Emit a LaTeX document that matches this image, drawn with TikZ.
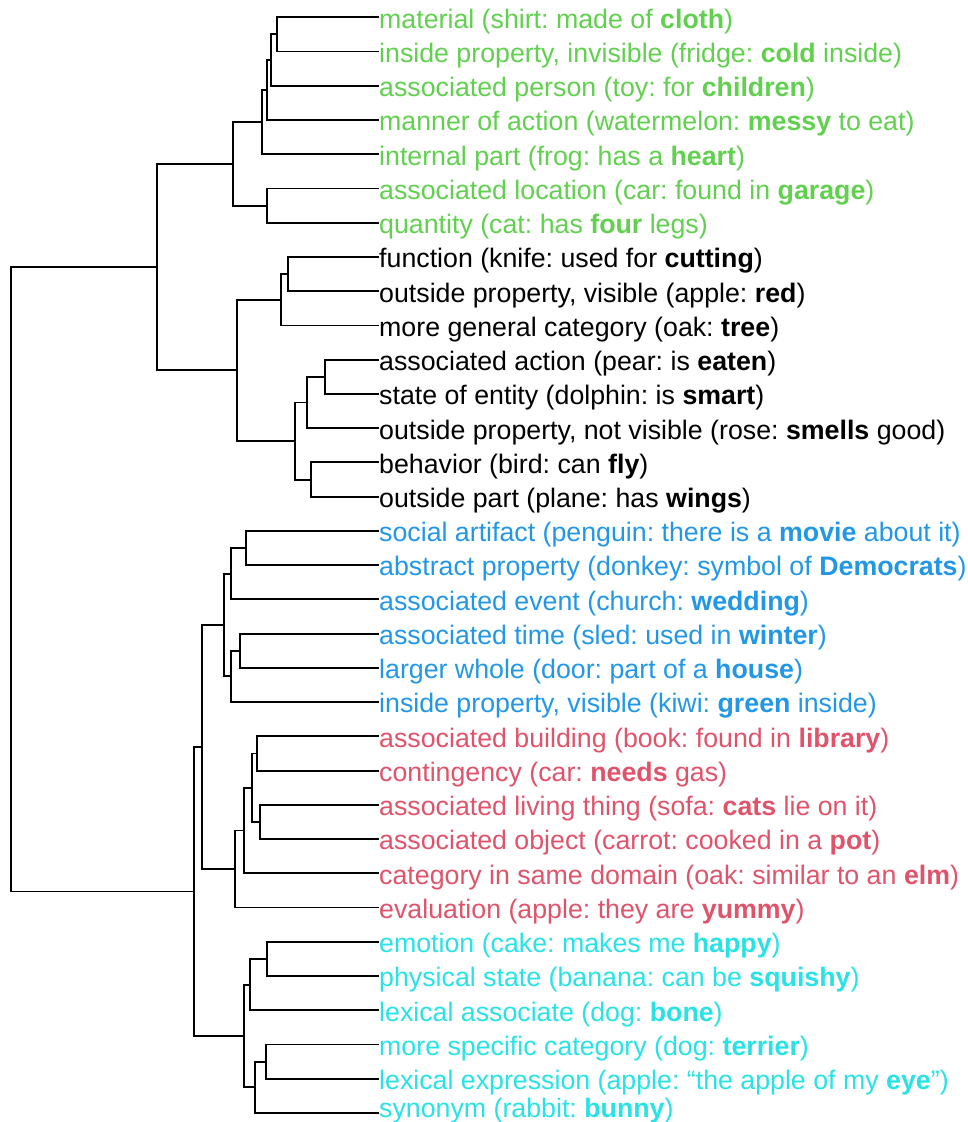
\documentclass[tikz,border=0pt]{standalone}
\usepackage{fontspec}
\setmainfont{Liberation Sans}
\usepackage{xcolor}
\frenchspacing

\definecolor{rgreen}{HTML}{61D04F}
\definecolor{rblue}{HTML}{2297E6}
\definecolor{rred}{HTML}{DF536B}
\definecolor{rcyan}{HTML}{28E2E5}

\tikzset{
  leaf/.style={anchor=west, inner sep=0pt, text height=21.6pt, text depth=0pt,
    font=\fontsize{26.75}{30}\selectfont},
  link/.style={line width=1.9pt}
}

\begin{document}
\begin{tikzpicture}[x=1pt, y=-1pt]
\useasboundingbox (0,0) rectangle (967,1122);

% leaves
\node[leaf, rgreen] (m1) at (379,17.3) {material (shirt: made of \textbf{cloth})};
\node[leaf, rgreen] (m2) at (379,51.5) {inside property, invisible (fridge: \textbf{cold} inside)};
\node[leaf, rgreen] (m3) at (379,85.8) {associated person (toy: for \textbf{children})};
\node[leaf, rgreen] (m4) at (379,120.0) {manner of action (watermelon: \textbf{messy} to eat)};
\node[leaf, rgreen] (m5) at (379,154.3) {internal part (frog: has a \textbf{heart})};
\node[leaf, rgreen] (m6) at (379,188.5) {associated location (car: found in \textbf{garage})};
\node[leaf, rgreen] (m7) at (379,222.7) {quantity (cat: has \textbf{four} legs)};
\node[leaf] (m8) at (379,257.0) {function (knife: used for \textbf{cutting})};
\node[leaf] (m9) at (379,291.2) {outside property, visible (apple: \textbf{red})};
\node[leaf] (m10) at (379,325.5) {more general category (oak: \textbf{tree})};
\node[leaf] (m11) at (379,359.7) {associated action (pear: is \textbf{eaten})};
\node[leaf] (m12) at (379,393.9) {state of entity (dolphin: is \textbf{smart})};
\node[leaf] (m13) at (379,428.2) {outside property, not visible (rose: \textbf{smells} good)};
\node[leaf] (m14) at (379,462.4) {behavior (bird: can \textbf{fly})};
\node[leaf] (m15) at (379,496.7) {outside part (plane: has \textbf{wings})};
\node[leaf, rblue] (m16) at (379,530.9) {social artifact (penguin: there is a \textbf{movie} about it)};
\node[leaf, rblue] (m17) at (379,565.1) {abstract property (donkey: symbol of \textbf{Democrats})};
\node[leaf, rblue] (m18) at (379,599.4) {associated event (church: \textbf{wedding})};
\node[leaf, rblue] (m19) at (379,633.6) {associated time (sled: used in \textbf{winter})};
\node[leaf, rblue] (m20) at (379,667.9) {larger whole (door: part of a \textbf{house})};
\node[leaf, rblue] (m21) at (379,702.1) {inside property, visible (kiwi: \textbf{green} inside)};
\node[leaf, rred] (m22) at (379,736.3) {associated building (book: found in \textbf{library})};
\node[leaf, rred] (m23) at (379,770.6) {contingency (car: \textbf{needs} gas)};
\node[leaf, rred] (m24) at (379,804.8) {associated living thing (sofa: \textbf{cats} lie on it)};
\node[leaf, rred] (m25) at (379,839.1) {associated object (carrot: cooked in a \textbf{pot})};
\node[leaf, rred] (m26) at (379,873.3) {category in same domain (oak: similar to an \textbf{elm})};
\node[leaf, rred] (m27) at (379,907.5) {evaluation (apple: they are \textbf{yummy})};
\node[leaf, rcyan] (m28) at (379,941.8) {emotion (cake: makes me \textbf{happy})};
\node[leaf, rcyan] (m29) at (379,976.0) {physical state (banana: can be \textbf{squishy})};
\node[leaf, rcyan] (m30) at (379,1010.3) {lexical associate (dog: \textbf{bone})};
\node[leaf, rcyan] (m31) at (379,1044.5) {more specific category (dog: \textbf{terrier})};
\node[leaf, rcyan] (m32) at (379,1078.7) {lexical expression (apple: “the apple of my \textbf{eye}”)};
\node[leaf, rcyan, text height=9pt] (m33) at (379,1113.0) {synonym (rabbit: \textbf{bunny})};

% merge points
\coordinate (ga) at (277.3,34.4);
\coordinate (gb) at (271.0,60.1);
\coordinate (gc) at (266.7,90.1);
\coordinate (gd) at (261.7,122.2);
\coordinate (ge) at (267.3,205.6);
\coordinate (gf) at (233.0,163.9);
\coordinate (ka) at (288.0,274.1);
\coordinate (kb) at (281.0,299.8);
\coordinate (kc) at (325.3,376.8);
\coordinate (kd) at (307.0,402.5);
\coordinate (ke) at (311.3,479.6);
\coordinate (kf) at (295.3,441.0);
\coordinate (kg) at (237.0,370.4);
\coordinate (top) at (156.7,267.2);
\coordinate (ba) at (245.7,548.0);
\coordinate (bb) at (230.7,573.7);
\coordinate (bc) at (240.0,650.8);
\coordinate (bd) at (231.3,676.4);
\coordinate (be) at (223.7,625.1);
\coordinate (ra) at (257.0,753.5);
\coordinate (rb) at (260.0,822.0);
\coordinate (rc) at (251.7,787.7);
\coordinate (rd) at (243.7,830.5);
\coordinate (re) at (235.3,869.0);
\coordinate (br) at (202.3,747.0);
\coordinate (ca) at (267.0,958.9);
\coordinate (cb) at (250.0,984.6);
\coordinate (cc) at (266.0,1061.6);
\coordinate (cd) at (254.7,1087.3);
\coordinate (ce) at (244.3,1036.0);
\coordinate (bot) at (194.0,891.5);
\coordinate (root) at (11.3,579.3);

% branches
\draw[link] (m1.west) -| (ga) |- (m2.west);
\draw[link] (ga) -| (gb) |- (m3.west);
\draw[link] (gb) -| (gc) |- (m4.west);
\draw[link] (gc) -| (gd) |- (m5.west);
\draw[link] (m6.west) -| (ge) |- (m7.west);
\draw[link] (gd) -| (gf) |- (ge);
\draw[link] (m8.west) -| (ka) |- (m9.west);
\draw[link] (ka) -| (kb) |- (m10.west);
\draw[link] (m11.west) -| (kc) |- (m12.west);
\draw[link] (kc) -| (kd) |- (m13.west);
\draw[link] (m14.west) -| (ke) |- (m15.west);
\draw[link] (kd) -| (kf) |- (ke);
\draw[link] (kb) -| (kg) |- (kf);
\draw[link] (gf) -| (top) |- (kg);
\draw[link] (m16.west) -| (ba) |- (m17.west);
\draw[link] (ba) -| (bb) |- (m18.west);
\draw[link] (m19.west) -| (bc) |- (m20.west);
\draw[link] (bc) -| (bd) |- (m21.west);
\draw[link] (bb) -| (be) |- (bd);
\draw[link] (m22.west) -| (ra) |- (m23.west);
\draw[link] (m24.west) -| (rb) |- (m25.west);
\draw[link] (ra) -| (rc) |- (rb);
\draw[link] (rc) -| (rd) |- (m26.west);
\draw[link] (rd) -| (re) |- (m27.west);
\draw[link] (be) -| (br) |- (re);
\draw[link] (m28.west) -| (ca) |- (m29.west);
\draw[link] (ca) -| (cb) |- (m30.west);
\draw[link] (m31.west) -| (cc) |- (m32.west);
\draw[link] (cc) -| (cd) |- (m33.west);
\draw[link] (cb) -| (ce) |- (cd);
\draw[link] (br) -| (bot) |- (ce);
\draw[link] (top) -| (root) |- (bot);
\end{tikzpicture}
\end{document}
